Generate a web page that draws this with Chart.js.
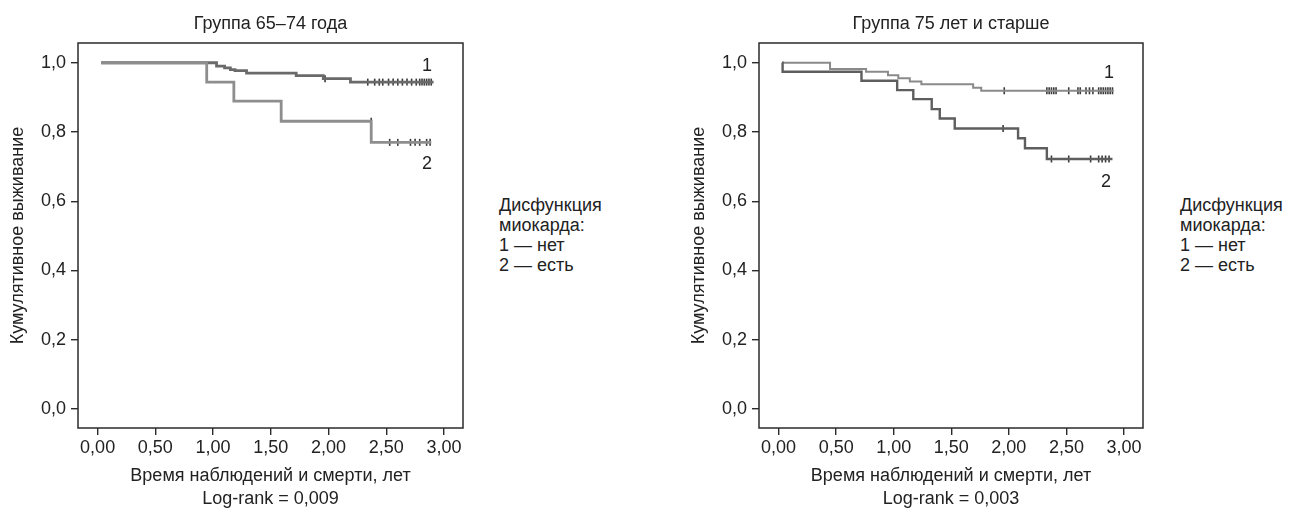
<!DOCTYPE html>
<html lang="ru">
<head>
<meta charset="utf-8">
<script src="https://cdn.jsdelivr.net/npm/chart.js@4/dist/chart.umd.min.js"></script>
<style>
  html, body { margin:0; padding:0; background:#fff; }
  body { width:1294px; height:509px; position:relative; overflow:hidden; font-family:"Liberation Sans", Arial, sans-serif; color:#222; }
  canvas { position:absolute; top:0; }
  .txt { position:absolute; font-size:18px; line-height:20px; color:#222; white-space:nowrap; }
  .num { position:absolute; font-size:18px; color:#222; transform:translate(-50%,-50%); }
</style>
</head>
<body>
<canvas id="c1" width="480" height="509" style="left:0px"></canvas>
<canvas id="c2" width="480" height="509" style="left:681px"></canvas>
<div class="txt" style="left:499px; top:195px">Дисфункция<br>миокарда:<br>1 — нет<br>2 — есть</div>
<div class="txt" style="left:1180px; top:195px">Дисфункция<br>миокарда:<br>1 — нет<br>2 — есть</div>
<div class="num" style="left:427px; top:65px">1</div>
<div class="num" style="left:427px; top:163px">2</div>
<div class="num" style="left:1109px; top:72px">1</div>
<div class="num" style="left:1106px; top:181px">2</div>
<script>
// ---- tick labels ----
const xTicks = [0, 0.5, 1.0, 1.5, 2.0, 2.5, 3.0];
const yTicks = [0, 0.2, 0.4, 0.6, 0.8, 1.0];

// ---- Группа 65–74 года ----
const titleLeft = 'Группа 65–74 года';
const logrankLeft = 'Log-rank = 0,009';
const leftT1 = [0.03, 1.03, 1.10, 1.15, 1.19, 1.29, 1.72, 1.955, 2.19, 2.91];
const leftS1 = [1.0, 0.990, 0.985, 0.980, 0.977, 0.970, 0.963, 0.954, 0.944, 0.944];
const leftC1T = [1.97, 2.34, 2.40, 2.44, 2.47, 2.52, 2.56, 2.60, 2.64, 2.68, 2.72, 2.76, 2.79, 2.81, 2.83, 2.85, 2.87, 2.89];
const leftC1S = [0.954, 0.944, 0.944, 0.944, 0.944, 0.944, 0.944, 0.944, 0.944, 0.944, 0.944, 0.944, 0.944, 0.944, 0.944, 0.944, 0.944, 0.944];
const leftT2 = [0.03, 0.945, 1.18, 1.59, 2.37, 2.89];
const leftS2 = [1.0, 0.944, 0.889, 0.831, 0.770, 0.770];
const leftC2T = [2.37, 2.53, 2.60, 2.71, 2.75, 2.79, 2.85, 2.88];
const leftC2S = [0.831, 0.770, 0.770, 0.770, 0.770, 0.770, 0.770, 0.770];

// ---- Группа 75 лет и старше ----
const titleRight = 'Группа 75 лет и старше';
const logrankRight = 'Log-rank = 0,003';
const rightT1 = [0.03, 0.447, 0.76, 0.95, 1.04, 1.14, 1.24, 1.69, 1.76, 2.91];
const rightS1 = [1.0, 0.982, 0.974, 0.964, 0.955, 0.946, 0.938, 0.928, 0.919, 0.919];
const rightC1T = [1.96, 2.33, 2.35, 2.37, 2.39, 2.41, 2.52, 2.60, 2.62, 2.67, 2.70, 2.73, 2.78, 2.80, 2.82, 2.84, 2.86, 2.88, 2.90];
const rightC1S = [0.919, 0.919, 0.919, 0.919, 0.919, 0.919, 0.919, 0.919, 0.919, 0.919, 0.919, 0.919, 0.919, 0.919, 0.919, 0.919, 0.919, 0.919, 0.919];
const rightT2 = [0.03, 0.035, 0.72, 1.03, 1.17, 1.33, 1.40, 1.53, 2.08, 2.14, 2.33, 2.90];
const rightS2 = [1.0, 0.974, 0.948, 0.921, 0.895, 0.866, 0.839, 0.810, 0.782, 0.753, 0.722, 0.722];
const rightC2T = [1.95, 2.37, 2.52, 2.71, 2.78, 2.81, 2.84, 2.87];
const rightC2S = [0.810, 0.722, 0.722, 0.722, 0.722, 0.722, 0.722, 0.722];

const yTitle = 'Кумулятивное выживание';
const xTitle = 'Время наблюдений и смерти, лет';

const FONT = '"Liberation Sans", Arial, sans-serif';
const TXT = '#222';
const FS = 18;

function pts(t, s) { return t.map((v, i) => ({x: v, y: s[i]})); }

const framePlugin = {
  id: 'frame',
  beforeDatasetsDraw(chart) {
    const a = chart.chartArea, ctx = chart.ctx;
    ctx.save();
    ctx.strokeStyle = '#2b2b2b';
    ctx.lineWidth = 1.5;
    ctx.strokeRect(a.left, a.top, a.right - a.left, a.bottom - a.top);
    ctx.restore();
  }
};

function makeChart(id, title, logrank, t1, s1, c1t, c1s, t2, s2, c2t, c2s, st, padRight) {
  const censorStyle = {showLine:false, pointStyle:'line', rotation:90, pointRadius:3.5, pointBorderWidth:1.6, borderColor:'#3a3a3a', pointBorderColor:'#3a3a3a', backgroundColor:'#3a3a3a'};
  return new Chart(document.getElementById(id), {
    type: 'scatter',
    data: {
      datasets: [
        {data: pts(t2, s2), showLine:true, stepped:'before', borderColor: st.c2, borderWidth: st.w2, pointRadius:0, fill:false},
        {data: pts(t1, s1), showLine:true, stepped:'before', borderColor: st.c1, borderWidth: st.w1, pointRadius:0, fill:false},
        Object.assign({data: pts(c2t, c2s)}, censorStyle),
        Object.assign({data: pts(c1t, c1s)}, censorStyle)
      ]
    },
    options: {
      responsive:false, animation:false, devicePixelRatio:1,
      layout: {padding: {left:0, right:padRight, top:0, bottom:0}},
      plugins: {
        legend: {display:false}, tooltip: {enabled:false},
        title: {display:true, text:title, fullSize:false, color:TXT, font:{family:FONT, size:FS, weight:'normal', lineHeight:1.2}, padding:{top:13, bottom:8.4}}
      },
      scales: {
        x: {
          type:'linear', min:-0.17, max:3.165,
          afterBuildTicks: s => { s.ticks = xTicks.map(v => ({value:v})); },
          ticks: {color:TXT, font:{family:FONT, size:FS, lineHeight:1.2}, padding:2, maxRotation:0, autoSkip:false,
                  callback: v => v.toFixed(2).replace('.', ',')},
          grid: {display:true, drawOnChartArea:false, tickLength:7, color:'#2b2b2b', lineWidth:1.4},
          border: {display:false},
          title: {display:true, text:[xTitle, logrank], color:TXT, font:{family:FONT, size:FS, lineHeight:1.28}, padding:{top:0, bottom:-2}},
          afterFit: s => { s.height = 81; }
        },
        y: {
          type:'linear', min:-0.055, max:1.057,
          afterBuildTicks: s => { s.ticks = yTicks.map(v => ({value:v})); },
          ticks: {color:TXT, font:{family:FONT, size:FS}, padding:5,
                  callback: v => v.toFixed(1).replace('.', ',')},
          grid: {display:true, drawOnChartArea:false, tickLength:7, color:'#2b2b2b', lineWidth:1.4},
          border: {display:false},
          title: {display:true, text:yTitle, color:TXT, font:{family:FONT, size:FS, lineHeight:1.2}, padding:{top:7, bottom:0}},
          afterFit: s => { s.width = 78; }
        }
      }
    },
    plugins: [framePlugin]
  });
}

makeChart('c1', titleLeft, logrankLeft, leftT1, leftS1, leftC1T, leftC1S, leftT2, leftS2, leftC2T, leftC2S,
  {c1:'#6a6a6a', w1:2.8, c2:'#8e8e8e', w2:2.8}, 17);
makeChart('c2', titleRight, logrankRight, rightT1, rightS1, rightC1T, rightC1S, rightT2, rightS2, rightC2T, rightC2S,
  {c1:'#8a8a8a', w1:2.0, c2:'#5e5e5e', w2:2.4}, 18);
</script>
</body>
</html>
